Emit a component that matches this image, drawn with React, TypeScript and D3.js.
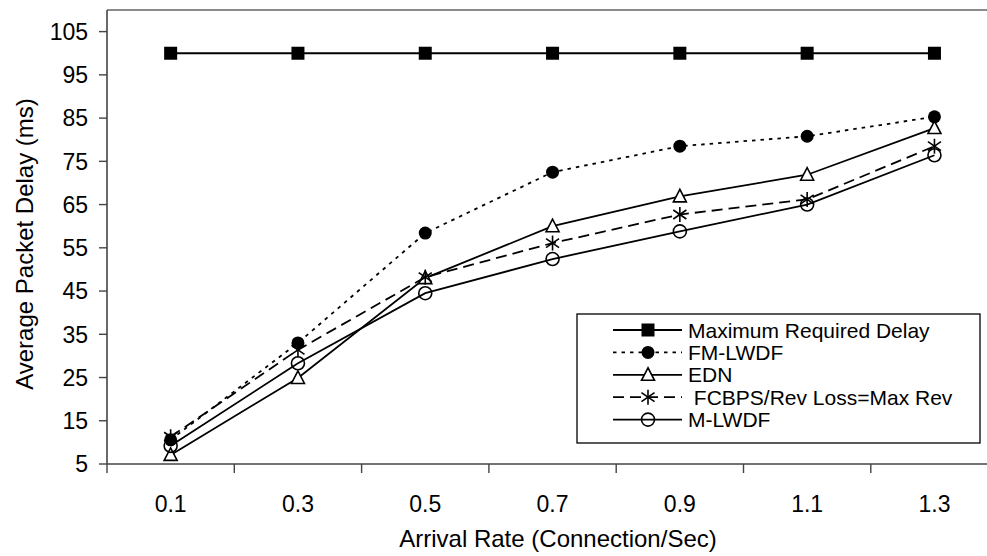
import React from "react";
import * as d3 from "d3";

const categories = ["0.1", "0.3", "0.5", "0.7", "0.9", "1.1", "1.3"];
const maxRequired = [100, 100, 100, 100, 100, 100, 100];
const fmLwdf = [10.6, 33, 58.4, 72.5, 78.5, 80.8, 85.3];
const edn = [7.1, 24.9, 48, 60, 66.9, 71.9, 82.7];
const fcbps = [11.3, 31.4, 48.2, 56.1, 62.7, 66.2, 78.5];
const mLwdf = [9.2, 28.3, 44.5, 52.4, 58.8, 65, 76.4];
const yTicks = [5, 15, 25, 35, 45, 55, 65, 75, 85, 95, 105];
const seriesNames = [
  "Maximum Required Delay",
  "FM-LWDF",
  "EDN",
  " FCBPS/Rev Loss=Max Rev",
  "M-LWDF",
];

const W = 987;
const H = 556;
const FONT = "'Liberation Sans', Arial, sans-serif";

type MarkerKind = "square" | "dot" | "triangle" | "star" | "circle";

function Marker({ kind, x, y }: { kind: MarkerKind; x: number; y: number }) {
  const s = 6.5;
  if (kind === "square")
    return <rect x={x - s} y={y - s} width={2 * s} height={2 * s} fill="#000" />;
  if (kind === "dot") return <circle cx={x} cy={y} r={6.5} fill="#000" />;
  if (kind === "triangle") {
    const p = `${x},${y - 7} ${x - 6.5},${y + 5.5} ${x + 6.5},${y + 5.5}`;
    return <polygon points={p} fill="#fff" stroke="#000" strokeWidth={1.6} />;
  }
  if (kind === "circle")
    return <circle cx={x} cy={y} r={6.5} fill="none" stroke="#000" strokeWidth={1.6} />;
  const r = 7.5;
  return (
    <g stroke="#000" strokeWidth={1.6}>
      <line x1={x} y1={y - r} x2={x} y2={y + r} />
      <line x1={x - r * 0.87} y1={y - r * 0.6} x2={x + r * 0.87} y2={y + r * 0.6} />
      <line x1={x - r * 0.87} y1={y + r * 0.6} x2={x + r * 0.87} y2={y - r * 0.6} />
    </g>
  );
}

export default function App() {
  const left = 107;
  const step = 127.3;
  const x = d3
    .scaleBand<string>()
    .domain(categories)
    .range([left, left + step * categories.length])
    .padding(0);
  const y = d3.scaleLinear().domain([5, 110]).range([464, 10]);
  const cx = (c: string) => (x(c) as number) + x.bandwidth() / 2;

  const series: { name: string; data: number[]; marker: MarkerKind; dash?: string }[] = [
    { name: seriesNames[0], data: maxRequired, marker: "square" },
    { name: seriesNames[1], data: fmLwdf, marker: "dot", dash: "3.5,5" },
    { name: seriesNames[2], data: edn, marker: "triangle" },
    { name: seriesNames[3], data: fcbps, marker: "star", dash: "11,6" },
    { name: seriesNames[4], data: mLwdf, marker: "circle" },
  ];

  const line = d3
    .line<number>()
    .x((_, i) => cx(categories[i]))
    .y((d) => y(d));

  const right = left + step * categories.length;
  const boundaries = d3.range(categories.length + 1).map((i) => left + i * step);

  const legX = 577;
  const legY = 314;
  const legW = 403;
  const legH = 129;
  const rowH = 22.4;

  return (
    <div style={{ position: "absolute", left: 0, top: 0 }}>
      <svg width={W} height={H} style={{ display: "block", background: "#fff" }} fontFamily={FONT}>
        <rect x={0} y={0} width={W} height={H} fill="#fff" />
        <line x1={left} y1={10} x2={right} y2={10} stroke="#8a8a8a" strokeWidth={2} />
        <line x1={left} y1={10} x2={left} y2={464} stroke="#444" strokeWidth={1.6} />
        <line x1={left} y1={464} x2={right} y2={464} stroke="#444" strokeWidth={1.6} />
        {yTicks.map((t) => (
          <g key={t}>
            <line x1={99} x2={left} y1={y(t)} y2={y(t)} stroke="#444" strokeWidth={1.4} />
            <text x={88} y={y(t)} dy="0.36em" textAnchor="end" fontSize={23} fill="#000">
              {t}
            </text>
          </g>
        ))}
        {boundaries.map((b, i) => (
          <line key={i} x1={b} x2={b} y1={464} y2={473} stroke="#444" strokeWidth={1.4} />
        ))}
        {categories.map((c) => (
          <text key={c} x={cx(c)} y={512} textAnchor="middle" fontSize={23} fill="#000">
            {c}
          </text>
        ))}
        <text x={558} y={547} textAnchor="middle" fontSize={24} fill="#000">
          Arrival Rate (Connection/Sec)
        </text>
        <text
          transform="translate(33,244) rotate(-90)"
          textAnchor="middle"
          fontSize={24}
          fill="#000"
        >
          Average Packet Delay (ms)
        </text>
        {series.map((s) => (
          <g key={s.name}>
            <path
              d={line(s.data) as string}
              fill="none"
              stroke="#000"
              strokeWidth={1.8}
              strokeDasharray={s.dash}
            />
            {s.data.map((v, i) => (
              <Marker key={i} kind={s.marker} x={cx(categories[i])} y={y(v)} />
            ))}
          </g>
        ))}
        <rect x={legX} y={legY} width={legW} height={legH} fill="#fff" stroke="#000" strokeWidth={1.3} />
        {series.map((s, i) => {
          const ry = legY + 16 + i * rowH;
          return (
            <g key={s.name}>
              <line
                x1={613}
                x2={682}
                y1={ry}
                y2={ry}
                stroke="#000"
                strokeWidth={1.8}
                strokeDasharray={s.dash}
              />
              <Marker kind={s.marker} x={648} y={ry} />
              <text x={688} y={ry} dy="0.36em" fontSize={21} fill="#000" style={{ whiteSpace: "pre" }}>
                {s.name}
              </text>
            </g>
          );
        })}
      </svg>
    </div>
  );
}
